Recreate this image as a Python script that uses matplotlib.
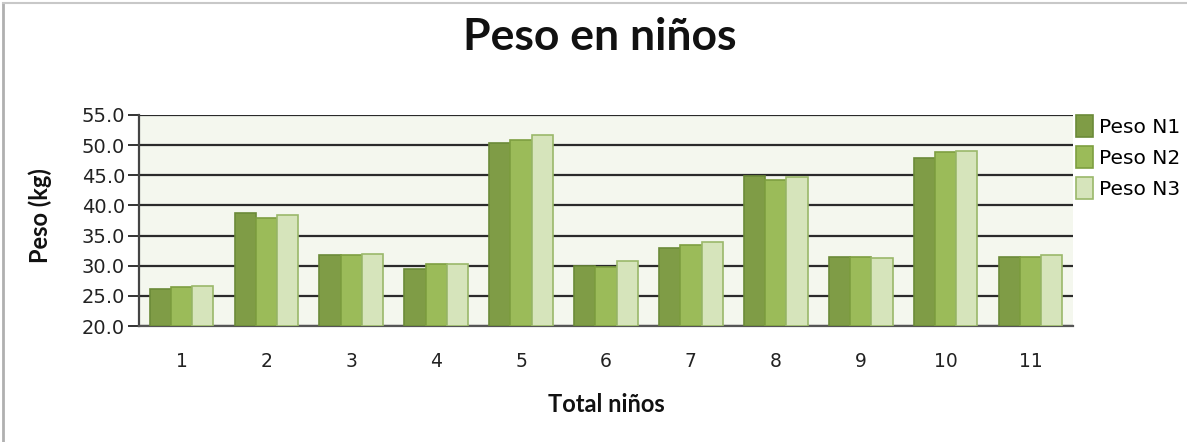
"""Peso en niños - barras agrupadas"""

import numpy as np
import matplotlib
matplotlib.use("Agg")
import matplotlib.pyplot as plt
from matplotlib.lines import Line2D

ninos = ['1', '2', '3', '4', '5', '6', '7', '8', '9', '10', '11']
peso_n1 = [26.1, 38.8, 31.7, 29.5, 50.3, 29.9, 32.9, 44.8, 31.4, 47.8, 31.4]
peso_n2 = [26.4, 37.9, 31.7, 30.3, 50.8, 29.8, 33.5, 44.3, 31.4, 48.8, 31.4]
peso_n3 = [26.7, 38.4, 32.0, 30.3, 51.7, 30.7, 34.0, 44.7, 31.2, 49.0, 31.7]
series = ['Peso N1', 'Peso N2', 'Peso N3']
colores = ['#7f9c46', '#9bbb59', '#d6e4bb']
bordes = ['#6b8a38', '#7e9f40', '#9ab86a']
y_ticks = [20, 25, 30, 35, 40, 45, 50, 55]

W, H = 1187, 442
fig = plt.figure(figsize=(W / 100, H / 100), dpi=100)
ax = fig.add_axes([139 / W, 1 - 326 / H, (1073 - 139) / W, (326 - 115) / H])
ax.set_facecolor('#f4f7ee')

x = np.arange(1, len(ninos) + 1)
ancho = 0.25
for i, valores in enumerate([peso_n1, peso_n2, peso_n3]):
    ax.bar(x + (i - 1) * ancho, np.array(valores) - 20, bottom=20, width=ancho,
           color=colores[i], edgecolor=bordes[i], linewidth=1.2,
           label=series[i], zorder=3)

ax.set_xlim(0.5, 11.5)
ax.set_ylim(20, 55)
ax.set_yticks(y_ticks)
ax.set_yticklabels([f'{v:.1f}' for v in y_ticks])
ax.set_xticks(x)
ax.set_xticklabels(ninos)
ax.yaxis.grid(True, color='#2a2a2a', linewidth=1.6, zorder=1)
ax.set_axisbelow(True)

for lado in ['top', 'right']:
    ax.spines[lado].set_visible(False)
ax.spines['left'].set_color('#444444')
ax.spines['left'].set_linewidth(1.6)
ax.spines['bottom'].set_color('#555555')
ax.spines['bottom'].set_linewidth(1.6)
ax.tick_params(axis='y', length=8, width=1.4, color='#333333', pad=2,
               labelsize=14, labelcolor='#222222')
ax.tick_params(axis='x', length=0, pad=19, labelsize=13.5, labelcolor='#222222')

fig.text(600 / W, 1 - 37 / H, 'Peso en niños', ha='center', va='center',
         fontsize=32, fontweight='bold', family='Lato', color='#111111')
fig.text(606 / W, 1 - 405 / H, 'Total niños', ha='center', va='center',
         fontsize=17, fontweight='bold', family='Lato', color='#111111')
fig.text(40 / W, 1 - 216 / H, 'Peso (kg)', ha='center', va='center',
         rotation=90, fontsize=17, fontweight='bold', family='Lato',
         color='#111111')

fig.legend(loc='upper left', bbox_to_anchor=(1062 / W, 1 - 101 / H),
           frameon=False, fontsize=14.5, handlelength=0.85, handleheight=1.3,
           handletextpad=0.3, labelspacing=0.45, borderpad=0.2)

# marco de la captura
fig.add_artist(Line2D([3 / W, 3 / W], [0, 1 - 3 / H], color='#b0b0b0', lw=2.0))
fig.add_artist(Line2D([3 / W, 1], [1 - 3 / H, 1 - 3 / H], color='#c8c8c8', lw=1.5))

plt.savefig('out.png', dpi=100)
